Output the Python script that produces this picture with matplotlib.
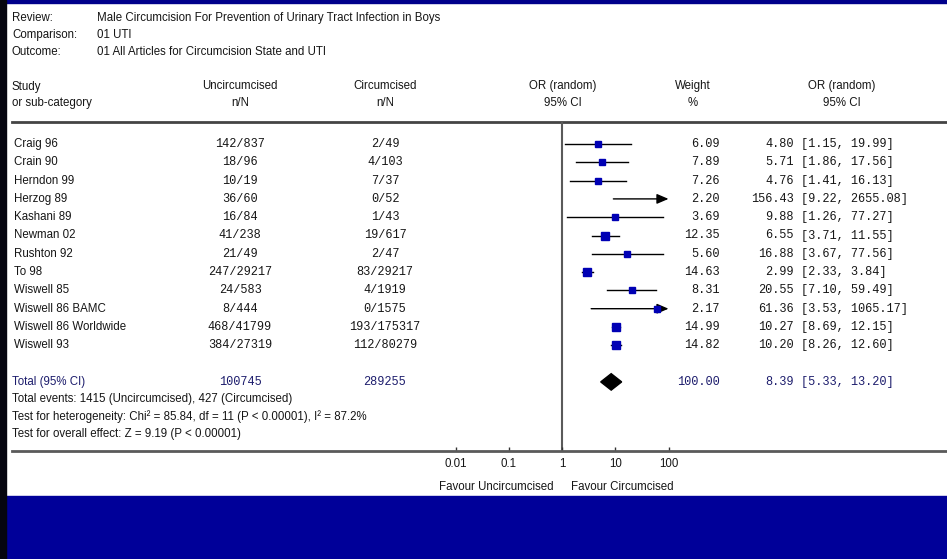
import matplotlib
matplotlib.use("Agg")
import matplotlib.pyplot as plt
from matplotlib.patches import Polygon, Rectangle

# ---------------- data ----------------
studies = ["Craig 96", "Crain 90", "Herndon 99", "Herzog 89", "Kashani 89", "Newman 02",
           "Rushton 92", "To 98", "Wiswell 85", "Wiswell 86 BAMC", "Wiswell 86 Worldwide",
           "Wiswell 93"]
uncirc_nN = ["142/837", "18/96", "10/19", "36/60", "16/84", "41/238", "21/49",
             "247/29217", "24/583", "8/444", "468/41799", "384/27319"]
circ_nN = ["2/49", "4/103", "7/37", "0/52", "1/43", "19/617", "2/47",
           "83/29217", "4/1919", "0/1575", "193/175317", "112/80279"]
weights = [6.09, 7.89, 7.26, 2.20, 3.69, 12.35, 5.60, 14.63, 8.31, 2.17, 14.99, 14.82]
or_pt = [4.80, 5.71, 4.76, 156.43, 9.88, 6.55, 16.88, 2.99, 20.55, 61.36, 10.27, 10.20]
or_lo = [1.15, 1.86, 1.41, 9.22, 1.26, 3.71, 3.67, 2.33, 7.10, 3.53, 8.69, 8.26]
or_hi = [19.99, 17.56, 16.13, 2655.08, 77.27, 11.55, 77.56, 3.84, 59.49, 1065.17, 12.15, 12.60]

total_unc = "100745"
total_circ = "289255"
total_weight = 100.00
total_pt, total_lo, total_hi = 8.39, 5.33, 13.20

axis_ticks = [0.01, 0.1, 1, 10, 100]
axis_ticklabels = ["0.01", "0.1", "1", "10", "100"]

# ---------------- figure ----------------
W, H = 947, 559
DPI = 100
fig = plt.figure(figsize=(W / DPI, H / DPI), dpi=DPI, facecolor="white")

SANS = ["Liberation Sans", "DejaVu Sans"]
MONO = ["Liberation Mono", "DejaVu Sans Mono"]
FS = 8.3
FM = 8.6
NAVY = "#1c1c6c"
TXT = "#161616"

# pixel-coordinate overlay axes for text / frame
tax = fig.add_axes([0, 0, 1, 1])
tax.set_xlim(0, W)
tax.set_ylim(H, 0)
tax.axis("off")

# frame decorations
tax.add_patch(Rectangle((0, 496), W, H - 496, color="#000099", zorder=0))
tax.add_patch(Rectangle((0, 0), W, 3, color="#00008b", zorder=0))
tax.add_patch(Rectangle((0, 0), 6, H, color="#05050f", zorder=0))

# forest axes (log scale)
px_dec = 53.25
x1 = 562.0
left_px, right_px = 12, W
top_px, bot_px = 122, 451
row0, rowh = 144.0, 18.3

fax = fig.add_axes([left_px / W, (H - bot_px) / H, (right_px - left_px) / W, (bot_px - top_px) / H])
fax.set_facecolor("none")
fax.set_xscale("log")
fax.set_xlim(10 ** ((left_px - x1) / px_dec), 10 ** ((right_px - x1) / px_dec))
fax.set_ylim((bot_px - row0) / rowh, (top_px - row0) / rowh)
for s in ["top", "right", "left"]:
    fax.spines[s].set_visible(False)
fax.spines["bottom"].set_color("#5a5a5a")
fax.spines["bottom"].set_linewidth(2.0)
fax.set_yticks([])
fax.set_xticks(axis_ticks)
fax.set_xticklabels(axis_ticklabels, fontfamily=SANS, fontsize=FS, color=TXT)
fax.minorticks_off()
fax.tick_params(axis="x", direction="in", length=3, width=1, color="#333333", pad=5)
fax.axvline(1, color="#5a5a5a", lw=1.5, zorder=1)

xmax_clip = 100
for i in range(len(studies)):
    lo, hi, pt = or_lo[i], or_hi[i], or_pt[i]
    if hi > xmax_clip:
        fax.annotate("", xy=(xmax_clip, i), xytext=(lo, i),
                     arrowprops=dict(arrowstyle="-|>,head_length=0.7,head_width=0.3",
                                     color="black", lw=1.0, shrinkA=0, shrinkB=0), zorder=2)
    else:
        fax.plot([lo, hi], [i, i], color="black", lw=1.0, zorder=2)
    if pt <= xmax_clip:
        ms_px = 4.5 + 0.25 * weights[i]
        fax.plot([pt], [i], marker="s", ms=ms_px * 0.72, color="#0000b4", mec="#0000b4", zorder=3)

ti = 13
fax.add_patch(Polygon([[total_lo, ti], [total_pt, ti - 0.45], [total_hi, ti], [total_pt, ti + 0.45]],
                      closed=True, color="black", zorder=3))

# ---------------- text ----------------
def t(x, y, s, ha="left", fam=SANS, fs=FS, color=TXT):
    tax.text(x, y, s, ha=ha, va="center", fontfamily=fam, fontsize=fs, color=color)

t(12, 18, "Review:"); t(97, 18, "Male Circumcision For Prevention of Urinary Tract Infection in Boys")
t(12, 35, "Comparison:"); t(97, 35, "01 UTI")
t(12, 52, "Outcome:"); t(97, 52, "01 All Articles for Circumcision State and UTI")

t(12, 87, "Study"); t(12, 103, "or sub-category")
t(240, 86, "Uncircumcised", ha="center"); t(240, 103, "n/N", ha="center")
t(385, 86, "Circumcised", ha="center"); t(385, 103, "n/N", ha="center")
t(563, 86, "OR (random)", ha="center"); t(563, 103, "95% CI", ha="center")
t(693, 86, "Weight", ha="center"); t(693, 103, "%", ha="center")
t(842, 86, "OR (random)", ha="center"); t(842, 103, "95% CI", ha="center")
tax.plot([12, W], [122, 122], color="#444444", lw=2.0)

for i, name in enumerate(studies):
    y = row0 + rowh * i
    t(14, y, name)
    t(240, y, uncirc_nN[i], ha="center", fam=MONO, fs=FM)
    t(385, y, circ_nN[i], ha="center", fam=MONO, fs=FM)
    t(720, y, f"{weights[i]:.2f}", ha="right", fam=MONO, fs=FM)
    t(794, y, f"{or_pt[i]:.2f}", ha="right", fam=MONO, fs=FM)
    t(801, y, f"[{or_lo[i]:.2f}, {or_hi[i]:.2f}]", fam=MONO, fs=FM)

yT = row0 + rowh * ti
t(12, yT, "Total (95% CI)", color=NAVY)
t(240, yT, total_unc, ha="center", fam=MONO, fs=FM, color=NAVY)
t(385, yT, total_circ, ha="center", fam=MONO, fs=FM, color=NAVY)
t(720, yT, f"{total_weight:.2f}", ha="right", fam=MONO, fs=FM, color=NAVY)
t(794, yT, f"{total_pt:.2f}", ha="right", fam=MONO, fs=FM, color=NAVY)
t(801, yT, f"[{total_lo:.2f}, {total_hi:.2f}]", fam=MONO, fs=FM, color=NAVY)

t(12, 399, "Total events: 1415 (Uncircumcised), 427 (Circumcised)")
t(12, 417, "Test for heterogeneity: Chi² = 85.84, df = 11 (P < 0.00001), I² = 87.2%")
t(12, 434, "Test for overall effect: Z = 9.19 (P < 0.00001)")

t(496, 487, "Favour Uncircumcised", ha="center")
t(622, 487, "Favour Circumcised", ha="center")

fig.savefig("out.png", dpi=DPI, facecolor="white")
